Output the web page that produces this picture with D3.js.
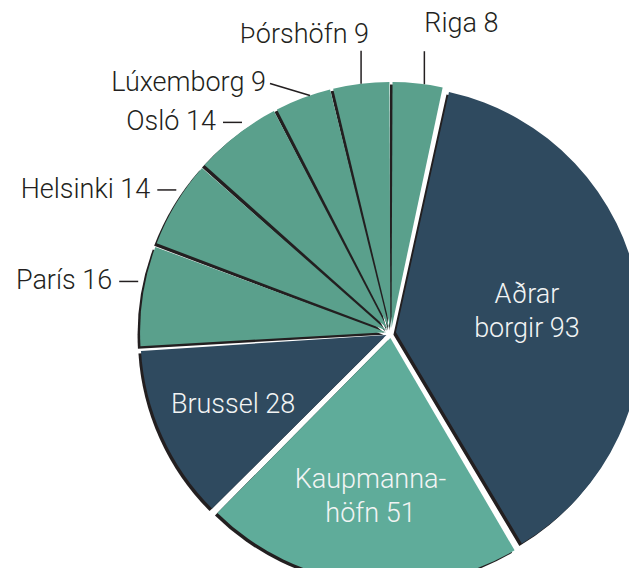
<!DOCTYPE html>
<html>
<head>
<meta charset="utf-8">
<script src="https://cdn.jsdelivr.net/npm/d3@7"></script>
<style>
  html, body { margin: 0; padding: 0; background: #fff; }
  svg { display: block; font-family: Roboto, "Open Sans", sans-serif; font-weight: 300; }
</style>
</head>
<body>
<div id="pie-chart"></div>
<script>
// borgir og fjöldi
const cities = ['Riga', 'Aðrar borgir', 'Kaupmannahöfn', 'Brussel', 'París',
  'Helsinki', 'Osló', 'Lúxemborg', 'Þórshöfn'];
const counts = [8, 93, 51, 28, 16, 14, 14, 9, 9];
const labels = [['Riga 8'], ['Aðrar', 'borgir 93'], ['Kaupmanna-', 'höfn 51'],
  ['Brussel 28'], ['París 16'], ['Helsinki 14'], ['Osló 14'], ['Lúxemborg 9'], ['Þórshöfn 9']];

const width = 629, height = 568;
const cx = 391, cy = 333, radius = 246, explode = 5;
const ink = '#231f20';

const color = d3.scaleOrdinal()
  .domain(cities)
  .range(['#5aa08c', '#2f4a5f', '#5fac9a', '#2f4a5f', '#5aa08c',
    '#5aa08c', '#5aa08c', '#5aa08c', '#5aa08c']);

// how the small slices are labelled outside the pie
const callout = {
  'Riga': { kind: 'up', anchor: 'start', lean: 0.25 },
  'Þórshöfn': { kind: 'up', anchor: 'end', lean: 0 },
  'Lúxemborg': { kind: 'slant', lean: 0.25 },
  'Osló': { kind: 'left', lean: 0.25 },
  'Helsinki': { kind: 'left', lean: 0.25 },
  'París': { kind: 'left', lean: 0.25 }
};

const data = cities.map((c, i) => ({ city: c, value: counts[i], lines: labels[i] }));

const svg = d3.select('#pie-chart')
  .append('svg')
  .attr('width', width)
  .attr('height', height)

const g = svg.append('g').attr('transform', `translate(${cx},${cy})`)

const pie = d3.pie()
  .sort(null)
  .value(d => d.value)
  .padAngle(0.008)

const arc = d3.arc()
  .innerRadius(0)
  .outerRadius(radius)
  .padRadius(radius)

const arcs = pie(data);
const mid = d => (d.startAngle + d.endAngle) / 2;
const polar = (a, r) => [Math.sin(a) * r, -Math.cos(a) * r];
const shift = d => polar(mid(d), explode);

// skuggi
g.selectAll('.shadow')
  .data(arcs)
  .enter()
  .append('path')
  .attr('class', 'shadow')
  .attr('d', arc)
  .attr('fill', ink)
  .attr('transform', d => {
    const [x, y] = shift(d);
    return `translate(${x - 2.5},${y + 2.5})`;
  })

g.selectAll('.slice')
  .data(arcs)
  .enter()
  .append('path')
  .attr('class', 'slice')
  .attr('d', arc)
  .attr('fill', d => color(d.data.city))
  .attr('transform', d => `translate(${shift(d)})`)

// labels inside the big slices
const inside = arcs.filter(d => !callout[d.data.city]);
inside.forEach(d => {
  const half = (d.endAngle - d.startAngle) / 2;
  const r = 1.08 * radius * (2 / 3) * Math.sin(half) / half;
  const [x, y] = polar(mid(d), r);
  const n = d.data.lines.length, lh = 34;
  g.append('text')
    .attr('text-anchor', 'middle')
    .attr('fill', '#f2f4f4')
    .attr('font-size', 27)
    .selectAll('tspan')
    .data(d.data.lines)
    .enter()
    .append('tspan')
    .attr('x', x)
    .attr('y', (t, i) => y + (i - (n - 1) / 2) * lh + 9)
    .text(t => t)
});

// labels outside with leader lines
arcs.filter(d => callout[d.data.city]).forEach(d => {
  const c = callout[d.data.city];
  const a = mid(d) + c.lean * (d.endAngle - mid(d));
  const [px, py] = polar(a, radius + explode + (c.kind === 'left' ? 7 : 0));
  let x1, y1, tx, ty, anchor = 'end';
  if (c.kind === 'up') {
    x1 = px; y1 = py - 33;
    if (c.anchor === 'start') { tx = px; ty = y1 - 19; anchor = 'start'; }
    else { tx = px + 8; ty = y1 - 8; }
  } else if (c.kind === 'slant') {
    x1 = px - 40; y1 = py - 12;
    tx = x1 - 4; ty = y1 + 8;
  } else {
    x1 = px - 19; y1 = py;
    tx = x1 - 7; ty = py + 8;
  }
  g.append('line')
    .attr('x1', px).attr('y1', py)
    .attr('x2', x1).attr('y2', y1)
    .attr('stroke', ink)
    .attr('stroke-width', 1.5)
  g.append('text')
    .attr('x', tx)
    .attr('y', ty)
    .attr('text-anchor', anchor)
    .attr('fill', ink)
    .attr('font-size', 27)
    .text(d.data.lines[0])
});
</script>
</body>
</html>
